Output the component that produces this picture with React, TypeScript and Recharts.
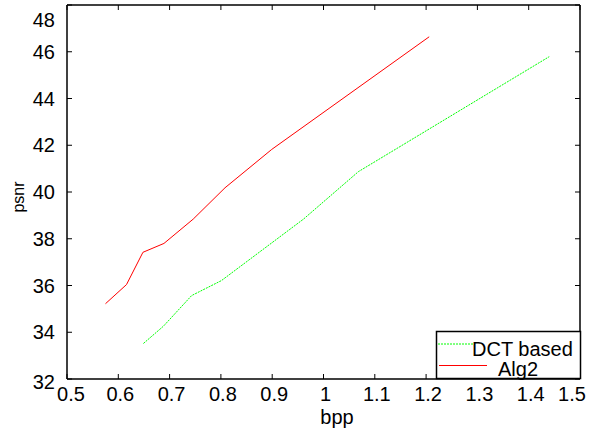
import React from 'react';
import { LineChart, Line, XAxis, YAxis } from 'recharts';

// values
const dctBpp = [0.649, 0.688, 0.743, 0.801, 0.961, 1.068, 1.44];
const dctPsnr = [33.52, 34.26, 35.57, 36.21, 38.84, 40.87, 45.79];
const alg2Bpp = [0.575, 0.616, 0.648, 0.689, 0.746, 0.808, 0.899, 1.206];
const alg2Psnr = [35.22, 36.04, 37.42, 37.8, 38.84, 40.18, 41.82, 46.64];

const bppTicks = [0.5, 0.6, 0.7, 0.8, 0.9, 1, 1.1, 1.2, 1.3, 1.4, 1.5];
const psnrTicks = [32, 34, 36, 38, 40, 42, 44, 46, 48];

const seriesNames = ['DCT based', 'Alg2'];

const dctData = dctBpp.map((x, i) => ({ x, y: dctPsnr[i] }));
const alg2Data = alg2Bpp.map((x, i) => ({ x, y: alg2Psnr[i] }));

const FONT = '"Liberation Sans", Arial, sans-serif';
const TICK_LEN = 5;

const BottomTick = (props: any) => {
  const { x, y, payload } = props;
  const v = payload.value;
  let dx = 2;
  if (v === 0.5) dx = 4;
  if (v === 1.5) dx = -8;
  return (
    <g>
      <line x1={x} y1={y} x2={x} y2={y - TICK_LEN} stroke="#000" strokeWidth={1} />
      <text x={x + dx} y={y + 22} textAnchor="middle" fontSize={20} fontFamily={FONT} fill="#000">
        {String(v)}
      </text>
    </g>
  );
};

const TopTick = (props: any) => {
  const { x, y } = props;
  return <line x1={x} y1={y} x2={x} y2={y + TICK_LEN} stroke="#000" strokeWidth={1} />;
};

const LeftTick = (props: any) => {
  const { x, y, payload } = props;
  const v = payload.value;
  let base = y + 7;
  if (v === 48) base = 27;
  if (v === 32) base = y + 10;
  return (
    <g>
      <line x1={x} y1={y} x2={x + TICK_LEN} y2={y} stroke="#000" strokeWidth={1} />
      <text x={x - 12} y={base} textAnchor="end" fontSize={20} fontFamily={FONT} fill="#000">
        {String(v)}
      </text>
    </g>
  );
};

const RightTick = (props: any) => {
  const { x, y } = props;
  return <line x1={x} y1={y} x2={x - TICK_LEN} y2={y} stroke="#000" strokeWidth={1} />;
};

const LegendBox = () => (
  <svg
    width={148}
    height={50}
    style={{ position: 'absolute', left: 436, top: 331, overflow: 'visible' }}
  >
    <rect x={0.5} y={0.5} width={144} height={47} fill="#fff" stroke="#000" strokeWidth={1.5} />
    <line x1={2} y1={13} x2={39} y2={13} stroke="#00ff00" strokeWidth={1} strokeDasharray="2 1" />
    <text x={36} y={25} fontSize={20} fontFamily={FONT} fill="#000">
      {seriesNames[0]}
    </text>
    <line x1={3} y1={34.5} x2={51} y2={34.5} stroke="#ff0000" strokeWidth={1} />
    <text x={62} y={44.5} fontSize={20} fontFamily={FONT} fill="#000">
      {seriesNames[1]}
    </text>
  </svg>
);

export default function App() {
  return (
    <div style={{ position: 'absolute', left: 0, top: 0, width: 600, height: 438, background: '#fff' }}>
      <LineChart
        width={600}
        height={438}
        margin={{ top: 4, right: 19, bottom: 0, left: 0 }}
      >
        <XAxis
          xAxisId="b"
          type="number"
          dataKey="x"
          domain={[0.5, 1.5]}
          ticks={bppTicks}
          interval={0}
          height={59}
          tickSize={0}
          tickMargin={0}
          tickLine={false}
          tick={<BottomTick />}
          axisLine={{ stroke: '#000', strokeWidth: 1.5 }}
          allowDataOverflow
          label={() => (
            <text x={337} y={424} textAnchor="middle" fontSize={20} fontFamily={FONT} fill="#000">
              bpp
            </text>
          )}
        />
        <XAxis
          xAxisId="t"
          orientation="top"
          type="number"
          dataKey="x"
          domain={[0.5, 1.5]}
          ticks={bppTicks}
          interval={0}
          height={1}
          tickSize={0}
          tickMargin={0}
          tickLine={false}
          tick={<TopTick />}
          axisLine={{ stroke: '#000', strokeWidth: 1.5 }}
          allowDataOverflow
        />
        <YAxis
          yAxisId="l"
          type="number"
          domain={[32, 48]}
          ticks={psnrTicks}
          interval={0}
          width={67}
          tickSize={0}
          tickMargin={0}
          tickLine={false}
          tick={<LeftTick />}
          axisLine={{ stroke: '#000', strokeWidth: 1.5 }}
          allowDataOverflow
          label={() => (
            <text
              x={24}
              y={197}
              transform="rotate(-90, 24, 197)"
              textAnchor="middle"
              fontSize={16}
              fontFamily={FONT}
              fill="#000"
            >
              psnr
            </text>
          )}
        />
        <YAxis
          yAxisId="r"
          orientation="right"
          type="number"
          domain={[32, 48]}
          ticks={psnrTicks}
          interval={0}
          width={1}
          tickSize={0}
          tickMargin={0}
          tickLine={false}
          tick={<RightTick />}
          axisLine={{ stroke: '#000', strokeWidth: 1.5 }}
          allowDataOverflow
        />
        {/* invisible series so the top and right axes are drawn */}
        <Line
          xAxisId="t"
          yAxisId="r"
          data={dctData}
          dataKey="y"
          type="linear"
          stroke="none"
          dot={false}
          activeDot={false}
          legendType="none"
          isAnimationActive={false}
        />
        <Line
          xAxisId="b"
          yAxisId="l"
          data={dctData}
          dataKey="y"
          type="linear"
          stroke="#00ff00"
          strokeWidth={1}
          strokeDasharray="2 1"
          dot={false}
          activeDot={false}
          isAnimationActive={false}
        />
        <Line
          xAxisId="b"
          yAxisId="l"
          data={alg2Data}
          dataKey="y"
          type="linear"
          stroke="#ff0000"
          strokeWidth={1}
          dot={false}
          activeDot={false}
          isAnimationActive={false}
        />
      </LineChart>
      <LegendBox />
    </div>
  );
}
